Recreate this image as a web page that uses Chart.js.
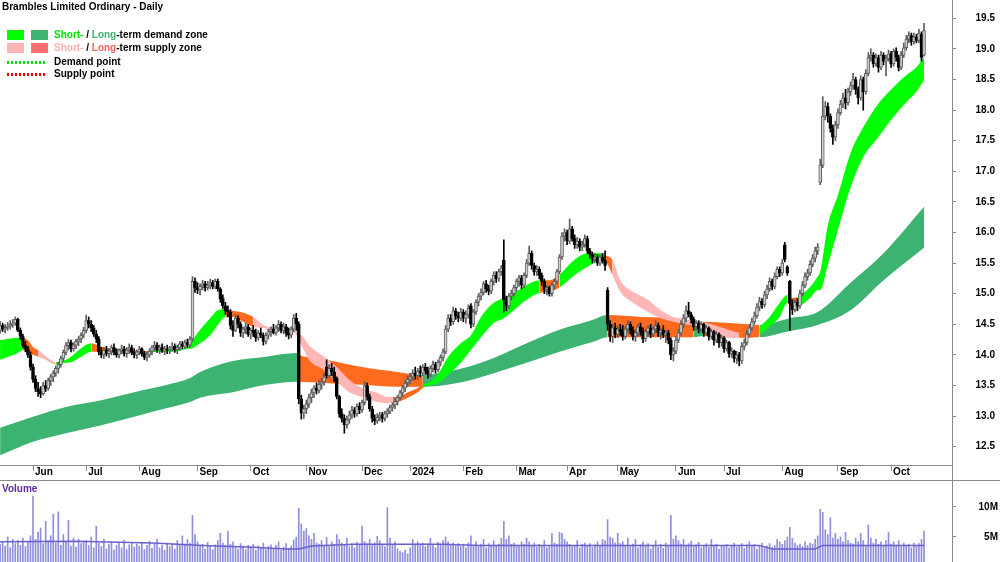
<!DOCTYPE html>
<html>
<head>
<meta charset="utf-8">
<script src="https://cdn.jsdelivr.net/npm/chart.js@4.4.1/dist/chart.umd.min.js"></script>
<style>
  body { margin: 0; background: #fff; }
  #wrap { position: relative; width: 1000px; height: 562px; overflow: hidden; font-family: "Liberation Sans", Arial, sans-serif; }
  #priceChart { position: absolute; left: 0; top: 0; }
  #volChart { position: absolute; left: 0; top: 480px; }
  .txt { position: absolute; font-weight: bold; font-size: 10px; line-height: 12px; white-space: nowrap; color: #000; }
  .box { position: absolute; width: 17px; height: 10px; }
  .dots { position: absolute; width: 39px; height: 3px; }
  .hline { position: absolute; height: 1px; background: #8a8a8a; }
  .vline { position: absolute; width: 1px; background: #8a8a8a; }
</style>
</head>
<body>
<div id="wrap">
  <canvas id="priceChart" width="1000" height="480"></canvas>
  <canvas id="volChart" width="1000" height="82"></canvas>
  <div class="hline" style="left:0;top:480px;width:1000px;"></div>
  <div class="vline" style="left:952px;top:465px;height:15px;"></div>

  <div class="txt" style="left:2px;top:1px;">Brambles Limited Ordinary - Daily</div>

  <div class="box" style="left:7px;top:30px;background:#00ff00;"></div>
  <div class="box" style="left:31px;top:30px;background:#3cb371;"></div>
  <div class="txt" style="left:54px;top:29px;"><span style="color:#00e000">Short-</span> / <span style="color:#3cb371">Long</span>-term demand zone</div>

  <div class="box" style="left:7px;top:43px;background:#ffb6b6;"></div>
  <div class="box" style="left:31px;top:43px;background:#ff7070;"></div>
  <div class="txt" style="left:54px;top:42px;"><span style="color:#ffb0b0">Short-</span> / <span style="color:#ff6060">Long</span>-term supply zone</div>

  <div class="dots" style="left:7px;top:61px;background:repeating-linear-gradient(90deg,#00e000 0 2px,transparent 2px 4px);"></div>
  <div class="txt" style="left:54px;top:56px;">Demand point</div>
  <div class="dots" style="left:7px;top:73px;background:repeating-linear-gradient(90deg,#ff0000 0 2px,transparent 2px 4px);"></div>
  <div class="txt" style="left:54px;top:68px;">Supply point</div>

  <div class="txt" style="left:2px;top:483px;color:#5b2c91;">Volume</div>
</div>

<script>
// daily OHLC, 15 May 2023 .. 18 Oct 2024 (ASX trading days)
const opens = [
  14.40,14.48,14.42,14.45,14.47,14.50,14.52,14.58,14.40,14.30,14.16,14.10,14.00, // May
  13.80,13.60,13.45,13.40,13.36,13.50,13.45,13.58,13.64,13.70,13.78,13.84,13.94,14.04,14.15,14.20,14.10,14.16,14.22,14.26,14.32, // Jun
  14.40,14.56,14.50,14.44,14.34,14.26,14.05,14.00,14.08,14.02,14.06,14.12,14.04,14.00,14.08,14.10,14.02,14.08,14.12,14.04,14.00, // Jul
  14.05,14.10,14.02,13.96,14.00,14.06,14.12,14.16,14.08,14.12,14.06,14.10,14.08,14.12,14.14,14.08,14.12,14.18,14.14,14.20,14.16,14.26,15.20, // Aug
  15.10,15.06,15.12,15.16,15.10,15.14,15.18,15.12,15.20,15.08,14.92,14.80,14.72,14.70,14.48,14.40,14.60,14.50,14.36,14.42,14.46, // Sep
  14.34,14.40,14.36,14.28,14.36,14.32,14.22,14.32,14.38,14.42,14.36,14.44,14.50,14.40,14.46,14.36,14.32,14.42,14.60,14.50,13.28,13.05, // Oct
  13.12,13.20,13.30,13.38,13.46,13.42,13.52,13.56,13.80,13.66,13.78,13.72,13.62,13.32,13.04,12.96,12.86,12.94,13.02,13.10,13.04,13.16, // Nov
  13.10,13.22,13.50,13.32,13.12,12.96,12.92,12.98,13.02,12.96,13.04,13.08,13.14,13.18,13.24,13.30,13.38,13.46,13.54, // Dec
  13.60,13.64,13.70,13.66,13.74,13.70,13.80,13.74,13.68,13.78,13.84,13.76,13.88,13.96,14.05,14.42,14.60,14.54,14.72,14.64,14.60, // Jan
  14.70,14.60,14.66,14.80,14.50,14.70,14.86,14.96,15.02,15.16,15.08,15.04,15.20,15.30,15.24,15.36,15.55,14.90,14.80,14.96,15.00, // Feb
  15.10,15.20,15.26,15.14,15.30,15.50,15.66,15.46,15.36,15.40,15.30,15.20,15.06,15.10,15.00,15.14,15.20,15.36,15.60,15.94, // Mar
  16.00,15.86,16.06,15.90,15.80,15.86,15.76,15.80,15.90,15.70,15.64,15.56,15.60,15.50,15.60,15.54,15.06,14.50,14.30,14.44, // Apr
  14.34,14.42,14.38,14.30,14.42,14.50,14.40,14.30,14.36,14.46,14.38,14.26,14.38,14.44,14.34,14.42,14.48,14.36,14.40,14.32,14.36,14.24,14.00, // May
  14.06,14.24,14.36,14.50,14.60,14.72,14.66,14.58,14.46,14.52,14.42,14.50,14.36,14.44,14.30,14.38,14.24,14.34,14.20, // Jun
  14.28,14.10,14.20,14.02,14.06,13.94,14.00,13.90,14.14,14.20,14.34,14.44,14.54,14.64,14.78,14.88,14.82,14.98,15.08,15.20,15.12,15.28,15.40, // Jul
  15.34,15.80,15.44,15.20,14.84,14.74,14.86,14.80,15.00,15.14,15.28,15.34,15.48,15.58,15.70,16.82,17.10,17.90,18.06,17.90,17.70,17.56, // Aug
  17.76,17.96,18.10,18.20,18.12,18.30,18.40,18.50,18.34,18.20,18.50,18.30,18.60,18.86,18.90,18.76,18.86,18.70,18.90,18.80,18.84, // Sep
  18.92,18.76,18.96,18.86,18.70,18.90,19.02,19.16,19.22,19.12,19.20,19.14,19.24,18.90 // Oct
];
const highs = [
  14.55,14.52,14.50,14.53,14.56,14.58,14.62,14.60,14.44,14.34,14.22,14.14,14.05,
  13.85,13.66,13.55,13.48,13.55,13.58,13.62,13.68,13.74,13.82,13.88,13.98,14.08,14.20,14.25,14.24,14.20,14.26,14.30,14.36,14.45,
  14.65,14.62,14.56,14.48,14.40,14.30,14.12,14.12,14.14,14.10,14.16,14.18,14.10,14.10,14.16,14.14,14.12,14.18,14.16,14.10,14.08,
  14.14,14.12,14.06,14.04,14.10,14.15,14.22,14.20,14.16,14.18,14.14,14.16,14.14,14.20,14.18,14.16,14.22,14.22,14.24,14.26,14.30,15.28,15.26,
  15.18,15.16,15.22,15.20,15.20,15.24,15.22,15.24,15.24,15.10,14.98,14.86,14.80,14.74,14.56,14.66,14.64,14.54,14.46,14.52,14.50,
  14.44,14.48,14.42,14.40,14.44,14.36,14.36,14.42,14.46,14.50,14.48,14.56,14.54,14.52,14.50,14.44,14.46,14.66,14.68,14.54,13.34,13.18,
  13.26,13.36,13.44,13.50,13.54,13.58,13.62,13.70,13.92,13.84,13.86,13.80,13.64,13.34,13.12,13.02,13.00,13.08,13.16,13.14,13.20,13.22,
  13.26,13.56,13.54,13.36,13.16,13.02,13.04,13.06,13.06,13.08,13.12,13.18,13.22,13.28,13.34,13.42,13.50,13.58,13.66,
  13.70,13.76,13.80,13.78,13.82,13.84,13.86,13.80,13.82,13.90,13.88,13.92,14.00,14.10,14.48,14.66,14.66,14.78,14.76,14.70,14.76,
  14.74,14.72,14.82,14.84,14.74,14.90,15.00,15.08,15.20,15.22,15.14,15.24,15.36,15.36,15.40,15.46,15.88,14.96,15.00,15.06,15.14,
  15.24,15.30,15.30,15.34,15.56,15.78,15.70,15.50,15.46,15.44,15.34,15.24,15.14,15.12,15.18,15.24,15.40,15.64,16.00,16.06,
  16.04,16.22,16.10,15.96,15.92,15.90,15.86,15.96,15.94,15.74,15.68,15.66,15.64,15.64,15.66,15.70,15.10,14.56,14.50,14.52,
  14.48,14.50,14.48,14.46,14.56,14.54,14.46,14.40,14.50,14.52,14.44,14.42,14.48,14.50,14.46,14.56,14.52,14.44,14.48,14.40,14.40,14.28,14.12,
  14.30,14.42,14.56,14.66,14.80,14.86,14.70,14.62,14.56,14.56,14.54,14.52,14.48,14.46,14.42,14.40,14.38,14.36,14.32,
  14.30,14.24,14.22,14.12,14.08,14.06,14.04,14.20,14.26,14.40,14.50,14.60,14.70,14.84,14.94,14.92,15.04,15.14,15.26,15.24,15.34,15.44,15.44,
  15.56,15.84,15.46,15.22,14.90,14.90,14.92,15.06,15.20,15.34,15.40,15.54,15.64,15.76,15.82,17.20,18.22,18.14,18.12,17.94,17.76,17.82,
  18.02,18.16,18.28,18.34,18.36,18.46,18.60,18.54,18.38,18.56,18.54,18.66,18.94,19.00,18.94,18.92,18.90,18.96,18.94,18.90,18.98,
  18.96,19.00,19.02,18.90,18.96,19.10,19.22,19.28,19.26,19.26,19.24,19.32,19.28,19.42
];
const lows = [
  14.35,14.38,14.36,14.40,14.42,14.45,14.48,14.38,14.25,14.12,14.05,13.96,13.75,
  13.55,13.40,13.32,13.30,13.34,13.40,13.42,13.50,13.56,13.65,13.70,13.80,13.90,14.00,14.08,14.05,14.06,14.10,14.15,14.20,14.28,
  14.36,14.44,14.38,14.30,14.20,14.00,13.95,13.94,13.98,13.95,14.00,14.00,13.96,13.95,14.02,13.98,13.96,14.02,14.00,13.95,13.94,
  14.00,13.98,13.92,13.90,13.96,14.00,14.06,14.04,14.02,14.04,14.00,14.02,14.02,14.06,14.04,14.02,14.08,14.10,14.10,14.12,14.12,14.22,15.02,
  15.00,14.98,15.06,15.04,15.06,15.08,15.08,15.08,15.04,14.86,14.76,14.66,14.62,14.42,14.30,14.38,14.44,14.30,14.28,14.34,14.30,
  14.26,14.30,14.22,14.24,14.28,14.16,14.18,14.26,14.30,14.34,14.32,14.38,14.36,14.34,14.30,14.26,14.28,14.38,14.40,13.20,12.95,12.96,
  13.04,13.14,13.22,13.30,13.36,13.38,13.44,13.50,13.62,13.62,13.66,13.56,13.28,12.98,12.90,12.72,12.80,12.88,12.96,12.98,13.00,13.04,
  13.06,13.18,13.26,13.08,12.90,12.86,12.88,12.92,12.90,12.92,12.98,13.04,13.08,13.12,13.18,13.26,13.32,13.40,13.48,
  13.52,13.58,13.60,13.60,13.64,13.66,13.68,13.62,13.64,13.72,13.70,13.72,13.82,13.90,14.02,14.38,14.48,14.50,14.58,14.54,14.56,
  14.54,14.52,14.60,14.44,14.46,14.66,14.80,14.90,14.98,15.02,14.98,15.00,15.14,15.18,15.20,15.30,14.70,14.72,14.76,14.90,14.96,
  15.04,15.12,15.08,15.10,15.26,15.46,15.40,15.30,15.30,15.24,15.14,15.00,14.98,14.96,14.96,15.08,15.16,15.32,15.56,15.86,
  15.80,15.82,15.86,15.74,15.74,15.70,15.70,15.76,15.66,15.58,15.50,15.52,15.46,15.46,15.50,15.38,14.40,14.22,14.20,14.28,
  14.28,14.32,14.24,14.26,14.36,14.34,14.24,14.22,14.30,14.32,14.20,14.22,14.30,14.28,14.30,14.36,14.30,14.26,14.28,14.20,14.18,13.92,13.90,
  14.02,14.20,14.32,14.44,14.54,14.62,14.52,14.40,14.40,14.36,14.38,14.30,14.32,14.24,14.26,14.16,14.20,14.12,14.14,
  14.04,14.06,13.96,13.96,13.88,13.86,13.82,13.86,14.08,14.16,14.30,14.40,14.50,14.60,14.72,14.76,14.78,14.92,15.04,15.06,15.08,15.24,15.28,
  15.30,15.52,15.30,14.40,14.66,14.70,14.72,14.76,14.96,15.10,15.22,15.30,15.44,15.52,15.64,16.78,17.06,17.84,17.80,17.64,17.44,17.50,
  17.70,17.92,18.04,18.02,18.08,18.24,18.34,18.26,18.10,18.16,18.00,18.26,18.56,18.80,18.70,18.72,18.62,18.66,18.74,18.56,18.80,
  18.70,18.72,18.80,18.64,18.66,18.86,18.98,19.10,19.06,19.08,19.10,19.10,18.80,18.88
];
const closes = [
  14.48,14.42,14.45,14.47,14.50,14.52,14.58,14.40,14.30,14.16,14.10,14.00,13.80,
  13.60,13.45,13.40,13.36,13.50,13.45,13.58,13.64,13.70,13.78,13.84,13.94,14.04,14.15,14.20,14.10,14.16,14.22,14.26,14.32,14.40,
  14.56,14.50,14.44,14.34,14.26,14.05,14.00,14.08,14.02,14.06,14.12,14.04,14.00,14.08,14.10,14.02,14.08,14.12,14.04,14.00,14.05,
  14.10,14.02,13.96,14.00,14.06,14.12,14.16,14.08,14.12,14.06,14.10,14.08,14.12,14.14,14.08,14.12,14.18,14.14,14.20,14.16,14.26,15.20,15.10,
  15.06,15.12,15.16,15.10,15.14,15.18,15.12,15.20,15.08,14.92,14.80,14.72,14.70,14.48,14.40,14.60,14.50,14.36,14.42,14.46,14.34,
  14.40,14.36,14.28,14.36,14.32,14.22,14.32,14.38,14.42,14.36,14.44,14.50,14.40,14.46,14.36,14.32,14.42,14.60,14.50,13.28,13.05,13.12,
  13.20,13.30,13.38,13.46,13.42,13.52,13.56,13.64,13.66,13.78,13.72,13.62,13.32,13.04,12.96,12.86,12.94,13.02,13.10,13.04,13.16,13.10,
  13.22,13.50,13.32,13.12,12.96,12.92,12.98,13.02,12.96,13.04,13.08,13.14,13.18,13.24,13.30,13.38,13.46,13.54,13.60,
  13.64,13.70,13.66,13.74,13.70,13.80,13.74,13.68,13.78,13.84,13.76,13.88,13.96,14.05,14.42,14.60,14.54,14.72,14.64,14.60,14.70,
  14.60,14.66,14.76,14.50,14.70,14.86,14.96,15.02,15.16,15.08,15.04,15.20,15.30,15.24,15.36,15.42,14.90,14.80,14.96,15.00,15.10,
  15.20,15.26,15.14,15.30,15.50,15.66,15.46,15.36,15.40,15.30,15.20,15.06,15.10,15.00,15.14,15.20,15.36,15.60,15.94,16.00,
  15.86,16.06,15.90,15.80,15.86,15.76,15.80,15.90,15.70,15.64,15.56,15.60,15.50,15.60,15.54,15.46,14.50,14.30,14.44,14.34,
  14.42,14.38,14.30,14.42,14.50,14.40,14.30,14.36,14.46,14.38,14.26,14.38,14.44,14.34,14.42,14.48,14.36,14.40,14.32,14.36,14.24,14.00,14.06,
  14.24,14.36,14.50,14.60,14.72,14.66,14.58,14.46,14.52,14.42,14.50,14.36,14.44,14.30,14.38,14.24,14.34,14.20,14.28,
  14.10,14.20,14.02,14.06,13.94,14.00,13.90,14.14,14.20,14.34,14.44,14.54,14.64,14.78,14.88,14.82,14.98,15.08,15.20,15.12,15.28,15.40,15.34,
  15.50,15.56,15.34,14.84,14.74,14.86,14.80,15.00,15.14,15.28,15.34,15.48,15.58,15.70,15.76,17.10,17.90,18.06,17.90,17.70,17.56,17.76,
  17.96,18.10,18.20,18.12,18.30,18.40,18.50,18.34,18.20,18.50,18.30,18.60,18.86,18.90,18.76,18.86,18.70,18.90,18.80,18.84,18.92,
  18.76,18.96,18.86,18.70,18.90,19.02,19.16,19.22,19.12,19.20,19.14,19.26,18.86,19.30
];
// volume in millions of shares
const volumes = [
  3.8,4.2,3.5,5.0,3.2,4.6,3.9,4.4,3.6,4.8,3.4,4.1,5.2,
  11.8,4.6,5.8,6.5,3.9,7.6,4.4,5.2,8.8,4.0,9.2,3.6,5.4,4.2,7.8,3.5,4.8,3.3,4.6,3.9,4.2,
  4.4,3.6,5.0,3.2,6.8,4.0,3.4,4.6,3.0,3.8,4.2,2.8,3.6,4.0,3.2,4.5,2.9,3.7,4.1,3.3,3.8,
  3.5,4.0,2.9,3.6,4.3,3.1,3.8,4.6,3.2,3.6,2.8,4.0,3.4,3.9,3.0,4.4,3.6,5.2,3.8,4.6,4.0,8.6,5.4,
  4.2,3.6,3.8,3.0,4.1,3.5,2.9,3.7,4.4,5.6,4.0,3.6,6.0,3.8,4.2,3.4,3.0,3.9,3.5,2.9,3.6,
  3.2,3.8,2.8,3.5,3.1,4.0,2.9,3.4,3.7,3.0,3.6,4.2,2.8,3.3,3.9,3.1,3.5,4.5,5.0,9.8,7.2,6.0,
  6.4,5.2,4.6,5.6,4.0,3.8,4.4,3.6,4.9,3.5,4.2,3.8,5.4,4.6,4.0,3.6,4.8,3.4,3.9,3.2,4.1,3.6,
  6.8,4.2,3.8,4.6,3.6,4.0,5.1,4.4,3.8,3.4,9.9,4.8,3.6,4.2,3.0,2.6,2.4,2.8,2.2,
  3.2,4.6,3.8,4.2,3.6,4.0,3.4,3.9,4.8,3.6,3.2,4.1,3.8,4.4,5.0,4.2,3.6,4.0,3.5,3.9,3.4,
  3.8,3.2,4.0,5.2,3.6,4.2,3.4,3.8,4.6,3.2,3.9,3.5,4.4,3.6,3.8,4.8,7.6,4.6,5.2,3.8,4.0,
  3.6,3.4,4.2,3.8,4.8,4.2,3.6,4.0,3.3,3.8,3.5,4.4,3.2,3.6,5.6,4.0,3.8,5.8,5.6,4.6,
  4.2,3.8,3.4,3.6,4.4,3.2,3.8,4.0,3.5,3.9,3.3,3.7,4.2,3.6,4.6,4.4,7.9,5.0,4.8,4.0,
  5.6,3.9,4.2,3.6,4.8,3.4,3.8,4.6,3.2,3.7,4.2,3.5,3.9,3.0,3.6,4.4,3.3,3.8,3.1,4.0,3.6,8.6,4.6,
  5.2,4.4,3.8,4.6,3.6,3.9,4.3,3.4,3.7,4.1,3.2,3.6,3.9,3.3,4.6,3.5,3.8,3.0,3.6,
  3.4,3.8,3.2,3.6,4.0,3.3,3.5,3.9,3.1,3.7,4.2,3.4,3.8,3.0,3.6,4.0,3.2,3.5,3.9,3.3,3.6,4.6,4.2,
  3.8,4.4,5.0,6.6,4.8,4.0,3.6,3.8,3.4,4.2,3.6,4.0,3.8,4.6,5.2,9.6,9.1,6.2,5.4,8.2,4.8,5.6,
  4.6,5.0,4.2,5.8,4.4,4.0,3.8,4.8,4.2,5.6,4.4,3.6,7.0,4.8,4.0,4.6,3.8,4.2,3.6,4.4,5.8,
  3.8,4.2,3.6,4.4,3.4,4.0,3.6,3.8,3.2,4.0,3.5,3.9,4.6,6.0
];

// short-term zone: bar index, upper edge, lower edge, zone colour code
const shortIdx = [0,7,9,11,13,15,18,22,26,28,32,36,40,43,50,57,60,62,70,74,76,79,83,86,89,92,96,100,104,108,115,117,120,122,128,133,138,143,149,153,155,157,161,165,167,171,174,177,182,186,190,195,199,203,208,213,217,221,226,232,237,239,242,245,250,256,261,266,271,277,284,292,296,300,304,308,311,313,315,320,323,324,327,331,336,341,347,353,358,362,365];
const shortTop = [14.24,14.28,14.28,14.24,14.13,14.08,13.98,13.88,13.92,13.97,14.11,14.19,14.13,14.11,14.08,14.06,14.07,14.08,14.10,14.13,14.24,14.41,14.60,14.73,14.75,14.72,14.69,14.62,14.49,14.44,14.41,14.38,14.28,14.16,13.97,13.80,13.59,13.46,13.38,13.31,13.31,13.31,13.39,13.46,13.51,13.59,13.75,13.97,14.19,14.32,14.62,14.85,14.93,15.01,15.14,15.22,15.22,15.31,15.52,15.66,15.66,15.63,15.55,15.22,15.03,14.90,14.73,14.62,14.57,14.54,14.46,14.36,14.33,14.46,14.62,14.85,14.98,14.93,14.95,15.11,15.28,15.36,16.12,16.61,17.30,17.72,18.11,18.38,18.57,18.70,18.87];
const shortBot = [13.92,14.03,14.08,14.03,14.00,13.97,13.92,13.84,13.87,13.88,13.97,14.05,14.05,14.05,14.05,14.03,14.04,14.05,14.06,14.10,14.11,14.19,14.32,14.49,14.62,14.62,14.54,14.46,14.44,14.39,14.38,14.33,14.08,13.92,13.75,13.56,13.39,13.31,13.23,13.21,13.22,13.23,13.30,13.39,13.46,13.51,13.56,13.67,13.87,14.08,14.29,14.52,14.60,14.73,14.90,15.01,15.03,15.10,15.27,15.44,15.52,15.52,15.30,15.03,14.85,14.70,14.60,14.54,14.50,14.46,14.29,14.28,14.28,14.33,14.46,14.62,14.85,14.77,14.78,14.93,15.06,15.06,15.47,16.04,16.74,17.23,17.56,17.89,18.13,18.30,18.49];
const shortZone = ['G','G','O','O','O','P','P','G','G','G','G','O','O','O','O','O','G','G','G','G','G','G','G','G','O','O','O','P','P','P','P','P','P','P','P','P','P','P','P','P','O','O','O','O','G','G','G','G','G','G','G','G','G','G','G','O','O','G','G','G','G','O','P','P','P','P','P','P','P','P','P','O','O','G','G','G','O','O','G','G','G','G','G','G','G','G','G','G','G','G','G'];

// long-term zone
const longIdx = [0,13,26,40,53,66,75,79,92,105,117,118,128,143,157,167,173,186,195,208,221,234,240,253,269,274,278,288,300,312,323,336,349,365];
const longTop = [12.81,12.99,13.15,13.26,13.39,13.51,13.62,13.72,13.90,13.97,14.03,14.00,13.93,13.80,13.72,13.67,13.70,13.82,13.95,14.19,14.41,14.57,14.65,14.62,14.59,14.55,14.54,14.52,14.49,14.60,14.70,15.18,15.66,16.42];
const longBot = [12.36,12.58,12.72,12.85,12.99,13.13,13.23,13.30,13.39,13.51,13.56,13.56,13.54,13.51,13.48,13.48,13.49,13.59,13.70,13.87,14.05,14.21,14.29,14.29,14.29,14.29,14.31,14.29,14.29,14.39,14.49,14.73,15.22,15.75];
const longZone = ['D','D','D','D','D','D','D','D','D','D','D','O','O','O','O','D','D','D','D','D','D','D','O','O','O','D','O','O','D','D','D','D','D','D'];

// volume average line
const volAvgIdx = [0,30,60,80,100,113,118,123,140,175,190,300,305,322,325,365];
const volAvg = [4.2,4.3,4.0,3.6,3.3,3.0,3.0,3.5,3.8,3.8,3.6,3.6,3.0,3.0,3.6,3.6];

const priceTicks = [12.5,13,13.5,14,14.5,15,15.5,16,16.5,17,17.5,18,18.5,19,19.5];
const volTicks = [5,10];

const holidays = ['2023-06-12','2023-12-25','2023-12-26','2024-01-01','2024-01-26','2024-03-29','2024-04-01','2024-04-25','2024-06-10'];
const monthNames = ['Jan','Feb','Mar','Apr','May','Jun','Jul','Aug','Sep','Oct','Nov','Dec'];

const zoneColors = { G: '#00ff00', D: '#3cb371', P: '#ffb6b6', O: '#ff6a1e' };

// trading calendar -> month ticks
const dates = [];
let day = new Date(Date.UTC(2023, 4, 15));
while (dates.length < closes.length) {
  const iso = day.toISOString().slice(0, 10);
  const wd = day.getUTCDay();
  if (wd !== 0 && wd !== 6 && !holidays.includes(iso)) dates.push(new Date(day));
  day = new Date(day.getTime() + 86400000);
}
const monthTicks = [];
const monthLabels = [];
dates.forEach((dt, i) => {
  if (i > 0 && dt.getUTCMonth() !== dates[i - 1].getUTCMonth()) {
    monthTicks.push(i);
    monthLabels.push(dt.getUTCMonth() === 0 ? String(dt.getUTCFullYear()) : monthNames[dt.getUTCMonth()]);
  }
});

const xMin = -0.04;
const xMax = 376.06;
const axisGrey = '#8a8a8a';
const narrowFont = '"Liberation Sans Narrow", "Liberation Sans", Arial, sans-serif';

Chart.defaults.font.family = '"Liberation Sans", Arial, sans-serif';
Chart.defaults.animation = false;

const up = closes.map((c, i) => c >= opens[i]);

function bandData(idx, vals) {
  return idx.map((x, k) => ({ x: x, y: vals[k] }));
}

// no extra padding for the edge tick labels
function noPadY(scale, w) {
  scale.width = w;
  scale.paddingTop = 0;
  scale.paddingBottom = 0;
}

new Chart(document.getElementById('priceChart').getContext('2d'), {
  type: 'bar',
  data: {
    datasets: [
      {
        // bodies (drawn on top of the wicks)
        data: closes.map((c, i) => ({ x: i, y: [opens[i], c] })),
        backgroundColor: up.map(u => (u ? '#d0d0d0' : '#000000')),
        borderColor: up.map(u => (u ? '#5e5e5e' : '#000000')),
        borderWidth: 1,
        borderSkipped: false,
        barThickness: 3,
        minBarLength: 1,
        grouped: false,
      },
      {
        // wicks
        data: closes.map((c, i) => ({ x: i, y: [lows[i], highs[i]] })),
        backgroundColor: up.map(u => (u ? '#5e5e5e' : '#000000')),
        barThickness: 1,
        grouped: false,
      },
      {
        type: 'line',
        data: bandData(shortIdx, shortTop),
        borderWidth: 0,
        pointRadius: 0,
        cubicInterpolationMode: 'monotone',
        fill: '+1',
        backgroundColor: zoneColors.G,
        segment: { backgroundColor: ctx => zoneColors[shortZone[ctx.p0DataIndex]] },
      },
      {
        type: 'line',
        data: bandData(shortIdx, shortBot),
        borderWidth: 0,
        pointRadius: 0,
        cubicInterpolationMode: 'monotone',
        fill: false,
      },
      {
        type: 'line',
        data: bandData(longIdx, longTop),
        borderWidth: 0,
        pointRadius: 0,
        cubicInterpolationMode: 'monotone',
        fill: '+1',
        backgroundColor: zoneColors.D,
        segment: { backgroundColor: ctx => zoneColors[longZone[ctx.p0DataIndex]] },
      },
      {
        type: 'line',
        data: bandData(longIdx, longBot),
        borderWidth: 0,
        pointRadius: 0,
        cubicInterpolationMode: 'monotone',
        fill: false,
      },
    ],
  },
  options: {
    responsive: false,
    layout: { autoPadding: false, padding: { left: 0, top: 0, right: 5, bottom: 0 } },
    plugins: { legend: { display: false }, tooltip: { enabled: false } },
    scales: {
      x: {
        type: 'linear',
        min: xMin,
        max: xMax,
        offset: false,
        afterBuildTicks: scale => { scale.ticks = monthTicks.map(v => ({ value: v })); },
        afterFit: scale => { scale.height = 15; scale.paddingLeft = 0; scale.paddingRight = 0; },
        grid: { drawOnChartArea: false, offset: false, color: axisGrey, tickLength: 6 },
        border: { color: axisGrey },
        ticks: {
          autoSkip: false,
          maxRotation: 0,
          align: 'start',
          labelOffset: 2,
          padding: -5,
          color: '#000',
          font: { size: 10, weight: 'bold' },
          callback: v => monthLabels[monthTicks.indexOf(v)] || '',
        },
      },
      y: {
        position: 'right',
        min: 12.2,
        max: 19.8,
        afterBuildTicks: scale => { scale.ticks = priceTicks.map(v => ({ value: v })); },
        afterFit: scale => noPadY(scale, 43),
        grid: { drawOnChartArea: false, color: axisGrey, tickLength: 4 },
        border: { color: axisGrey },
        ticks: {
          crossAlign: 'far',
          color: '#000',
          font: { size: 10, weight: 'bold', family: narrowFont },
          callback: v => v.toFixed(1),
        },
      },
    },
  },
});

new Chart(document.getElementById('volChart').getContext('2d'), {
  type: 'bar',
  data: {
    datasets: [
      {
        type: 'line',
        data: volAvgIdx.map((x, k) => ({ x: x, y: volAvg[k] })),
        borderColor: '#6a5fcf',
        borderWidth: 1.5,
        pointRadius: 0,
        fill: false,
      },
      {
        data: volumes.map((v, i) => ({ x: i, y: v })),
        backgroundColor: '#8f8fdc',
        barThickness: 1,
        grouped: false,
      },
    ],
  },
  options: {
    responsive: false,
    layout: { autoPadding: false, padding: { left: 0, top: 0, right: 2, bottom: 0 } },
    plugins: { legend: { display: false }, tooltip: { enabled: false } },
    scales: {
      x: { type: 'linear', min: xMin, max: xMax, offset: false, display: false },
      y: {
        position: 'right',
        min: 0.83,
        max: 14.5,
        afterBuildTicks: scale => { scale.ticks = volTicks.map(v => ({ value: v })); },
        afterFit: scale => noPadY(scale, 46),
        grid: { drawOnChartArea: false, color: axisGrey, tickLength: 4 },
        border: { color: axisGrey },
        ticks: {
          crossAlign: 'far',
          color: '#000',
          font: { size: 10, weight: 'bold' },
          callback: v => v + 'M',
        },
      },
    },
  },
});
</script>
</body>
</html>
